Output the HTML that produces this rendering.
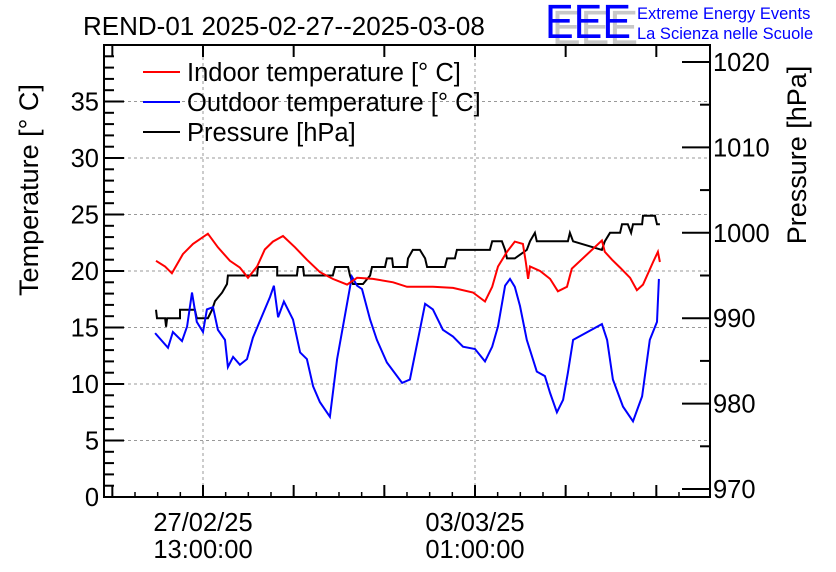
<!DOCTYPE html>
<html><head><meta charset="utf-8"><style>
body{margin:0;background:#fff;}
svg{display:block;font-family:"Liberation Sans",sans-serif;}
</style></head><body>
<svg id="chart" width="836" height="572" viewBox="0 0 836 572" xmlns="http://www.w3.org/2000/svg">
<rect x="0" y="0" width="836" height="572" fill="#fff"/>
<text x="83" y="35" font-size="26">REND-01 2025-02-27--2025-03-08</text>
<g>
<text x="552" y="44" font-size="48" fill="#c8c8c8" textLength="86" lengthAdjust="spacingAndGlyphs">EEE</text>
<text x="545" y="38" font-size="48" fill="#0000ff" textLength="86" lengthAdjust="spacingAndGlyphs">EEE</text>
<text x="637" y="19" font-size="16.5" fill="#0000ff">Extreme Energy Events</text>
<text x="637" y="39" font-size="16.5" fill="#0000ff">La Scienza nelle Scuole</text>
</g>
<g id="grid"></g>
<g id="series"></g>
<g id="axes"></g>
<g font-size="25.5">
<line x1="143" y1="72" x2="180" y2="72" stroke="#ff0000" stroke-width="2"/>
<text x="187" y="81">Indoor temperature [° C]</text>
<line x1="143" y1="102" x2="180" y2="102" stroke="#0000ff" stroke-width="2"/>
<text x="187" y="111">Outdoor temperature [° C]</text>
<line x1="143" y1="132" x2="180" y2="132" stroke="#000" stroke-width="2"/>
<text x="187" y="141">Pressure [hPa]</text>
</g>
<text transform="translate(38,190) rotate(-90)" text-anchor="middle" font-size="27">Temperature [° C]</text>
<text transform="translate(806,155) rotate(-90)" text-anchor="middle" font-size="27">Pressure [hPa]</text>
</svg>
<script>
// hours relative to 27/02/25 13:00
const indoorT=[-14.5,-11.7,-9.6,-6.2,-3.1,1.5,4.6,8.3,11.4,13.9,16.7,19.1,21.6,24.7,28.4,32.1,36.1,40.1,44.5,47.6,52.5,58.7,63.0,67.0,71.0,77.2,83.4,87.1,89.3,91.1,93.9,96.3,98.8,99.7,100.4,101.0,104.1,107.2,109.6,112.4,113.9,123.2,124.1,126.3,128.8,131.9,134.0,135.9,139.0,140.5,141.1];
const indoorV=[20.9,20.4,19.8,21.5,22.4,23.3,22.1,20.9,20.3,19.4,20.4,21.9,22.6,23.1,22.1,21.0,19.9,19.3,18.8,19.4,19.3,19.0,18.6,18.6,18.6,18.5,18.1,17.3,18.6,20.4,21.7,22.6,22.4,20.8,19.3,20.4,20.0,19.3,18.2,18.6,20.2,22.7,21.7,21.0,20.3,19.4,18.3,18.8,20.8,21.7,20.8];
const outdoorT=[-14.8,-10.8,-9.3,-6.5,-4.9,-3.4,-1.9,0,1.2,3.1,4.6,6.8,7.7,9.3,11.4,13.6,15.4,18.5,20.7,21.9,23.2,25.0,27.8,30.0,32.1,34.0,36.1,39.2,41.4,43.8,46.0,47.6,49.1,51.6,53.7,56.8,61.5,63.9,67.0,68.6,71.0,74.1,77.2,80.3,84.0,87.1,89.3,91.1,93.3,94.8,96.3,97.9,100.0,103.1,105.6,107.2,109.3,111.2,112.7,114.3,123.2,124.8,126.6,129.7,132.8,135.6,138.0,140.2,140.8];
const outdoorV=[14.5,13.2,14.6,13.8,15.1,18.1,15.5,14.6,16.6,16.8,14.8,13.9,11.5,12.4,11.7,12.2,14.1,16.2,17.7,18.7,15.9,17.3,15.7,12.8,12.2,9.8,8.4,7.1,12.2,16.0,19.5,18.7,18.4,15.7,13.9,11.9,10.1,10.4,14.8,17.1,16.6,14.8,14.2,13.3,13.1,12.0,13.3,15.1,18.7,19.3,18.6,16.9,13.9,11.1,10.7,9.2,7.5,8.6,11.0,13.9,15.3,13.9,10.4,8.0,6.7,8.9,13.9,15.5,19.3];
const pressT=[-14.5,-14.2,-11.7,-11.4,-11.1,-7.1,-7.1,-2.5,-1.9,1.5,2.8,3.7,5.9,7.4,7.7,16.7,17.0,22.9,22.9,29.0,29.3,30.9,31.2,40.1,40.8,44.8,45.4,46.3,49.4,51.6,52.2,56.2,56.8,58.4,58.7,63.0,63.3,64.8,67.0,68.6,69.2,74.7,75.4,77.8,78.4,88.6,89.3,92.3,93.3,93.9,96.3,100.0,101.0,102.5,103.1,112.7,113.3,114.3,123.2,124.1,125.7,128.8,129.4,131.2,132.2,132.8,135.6,135.9,139.6,140.2,141.1];
const pressV=[991,990,990,989,990,990,991,991,990,990,991,992,993,994,995,995,996,996,995,995,996,996,995,995,996,996,995,994,994,995,996,996,997,997,996,996,997,998,998,997,996,996,997,997,998,998,999,999,998,997,997,998,999,1000,999,999,1000,999,998,999,1000,1000,1001,1001,1000,1001,1001,1002,1002,1001,1001];
const tempTicks=[0,5,10,15,20,25,30,35];
const pressTicks=[970,980,990,1000,1010,1020];
const timeLabels=[[0,"27/02/25","13:00:00"],[84,"03/03/25","01:00:00"]];

const L=104,R=710,T=45,B=497;
const X0=203, PXH=3.238;
function sx(t){return X0+t*PXH;}
function sy(v){return B-(v)*(B-T)/40;}
function sp(p){return 489-(p-970)*8.54;}
const NS="http://www.w3.org/2000/svg";
function mk(tag,attrs,parent){const e=document.createElementNS(NS,tag);for(const k in attrs)e.setAttribute(k,attrs[k]);parent.appendChild(e);return e;}
const grid=document.getElementById('grid'),axes=document.getElementById('axes'),ser=document.getElementById('series');

tempTicks.forEach(v=>{if(v>0){const g=mk('line',{x1:L,x2:R,y1:sy(v),y2:sy(v),stroke:'#999','stroke-dasharray':'3,3','stroke-width':1},grid);

}});
timeLabels.forEach(d=>{const g=mk('line',{x1:sx(d[0]),x2:sx(d[0]),y1:T,y2:B,stroke:'#999','stroke-dasharray':'3,3','stroke-width':1},grid);

});

function line(ts,vs,f,color,name){const pts=ts.map((t,i)=>sx(t).toFixed(1)+','+f(vs[i]).toFixed(1)).join(' ');
const p=mk('polyline',{points:pts,fill:'none',stroke:color,'stroke-width':2,'stroke-linejoin':'miter'},ser);

}
line(pressT,pressV,sp,'#000','pressure-line');
line(outdoorT,outdoorV,sy,'#0000ff','outdoor-temperature-line');
line(indoorT,indoorV,sy,'#ff0000','indoor-temperature-line');

const fr=mk('rect',{x:L,y:T,width:R-L,height:B-T,fill:'none',stroke:'#000','stroke-width':2},axes);


for(let v=0;v<=40;v++){const len=v%5===0?20:10;mk('line',{x1:L,x2:L+len,y1:sy(v),y2:sy(v),stroke:'#000','stroke-width':2},axes);}
tempTicks.forEach(v=>{const t=mk('text',{x:L-5,y:sy(v)+9,'text-anchor':'end','font-size':25.5},axes);t.textContent=v;

});
for(let p=970;p<=1020;p+=5){const len=p%10===0?28:10;mk('line',{x1:R-len,x2:R,y1:sp(p),y2:sp(p),stroke:'#000','stroke-width':2},axes);}
pressTicks.forEach(p=>{const t=mk('text',{x:R+3,y:sp(p)+9,'font-size':25.5},axes);t.textContent=p;

});
for(let h=-28;h<=150;h+=28){const x=sx(h);if(x<L||x>R)continue;
mk('line',{x1:x,x2:x,y1:B,y2:B-12,stroke:'#000','stroke-width':2},axes);
mk('line',{x1:x,x2:x,y1:T,y2:T+12,stroke:'#000','stroke-width':2},axes);}
for(let h=-28;h<=150;h+=7){const x=sx(h);if(x<L||x>R)continue;mk('line',{x1:x,x2:x,y1:B,y2:B-5,stroke:'#000','stroke-width':1.5},axes);}
timeLabels.forEach(d=>{const a=mk('text',{x:sx(d[0]),y:531,'text-anchor':'middle','font-size':25.5},axes);a.textContent=d[1];


const b=mk('text',{x:sx(d[0]),y:558,'text-anchor':'middle','font-size':25.5},axes);b.textContent=d[2];

});
</script>
</body></html>
